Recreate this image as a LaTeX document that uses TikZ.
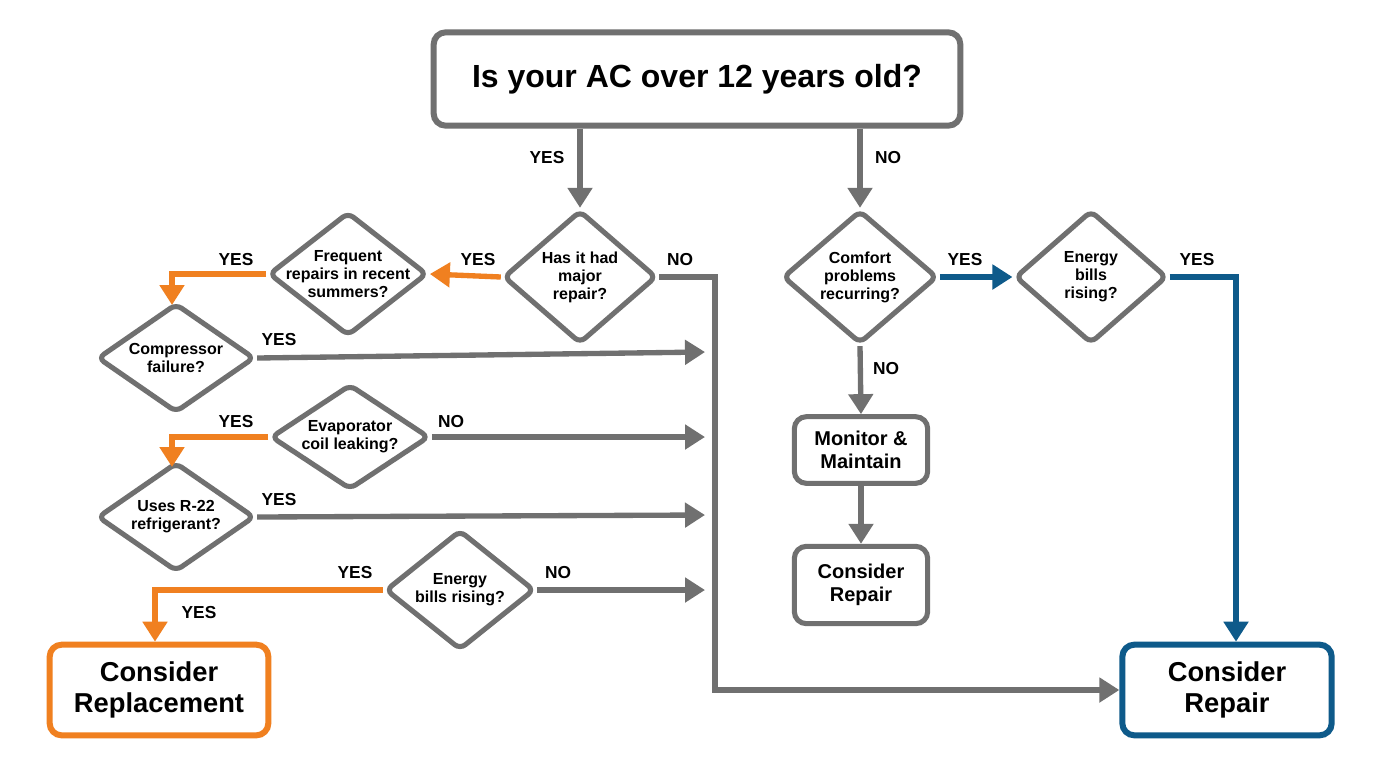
\documentclass[tikz,border=0pt]{standalone}
\usepackage{fontspec}
\setmainfont{Liberation Sans}
\usetikzlibrary{shapes.geometric,arrows.meta}
\definecolor{gr}{HTML}{707070}
\definecolor{orn}{HTML}{F08020}
\definecolor{blu}{HTML}{0E5A8A}
\begin{document}
\begin{tikzpicture}[x=0.75pt,y=-0.75pt,
  box/.style={draw=gr,line width=4.5pt,rounded corners=9pt,fill=white,font=\bfseries,align=center,inner sep=0},
  dia/.style={draw=gr,line width=3.8pt,diamond,rounded corners=5pt,fill=white,inner sep=0},
  dtxt/.style={font=\bfseries\fontsize{12}{13.5}\selectfont,align=center},
  arr/.style={line width=4pt,-{Triangle[length=15pt,width=18pt]}},
  lab/.style={font=\bfseries\fontsize{13}{15}\selectfont}]
\useasboundingbox (0,0) rectangle (1376,768);
\fill[white] (0,0) rectangle (1376,768);
% boxes
\node[box,minimum width=395pt,minimum height=70pt,font=\bfseries\fontsize{24}{27}\selectfont] (top) at (697,79) {Is your AC over 12 years old?};
\node[box,draw=orn,minimum width=164pt,minimum height=68pt,font=\bfseries\fontsize{20.5}{23.5}\selectfont] (repl) at (159,690) {Consider\\Replacement};
\node[box,draw=blu,minimum width=157pt,minimum height=68pt,font=\bfseries\fontsize{20.5}{23.5}\selectfont] (rep2) at (1227,690) {Consider\\Repair};
\node[box,line width=3.8pt,minimum width=100pt,minimum height=50pt,font=\bfseries\fontsize{15}{17.5}\selectfont] (mon) at (861,450) {Monitor \&\\Maintain};
\node[box,line width=3.8pt,minimum width=100pt,minimum height=58pt,font=\bfseries\fontsize{15}{17.5}\selectfont] (rep1) at (861,585) {Consider\\Repair};
% diamonds
\node[dia,minimum width=115pt,minimum height=100pt] (major) at (580,277) {};
\node[dtxt] at (major) {Has it had\\major\\repair?};
\node[dia,minimum width=119pt,minimum height=93pt] (freq) at (348,274) {};
\node[dtxt] at (freq) {Frequent\\repairs in recent\\summers?};
\node[dia,minimum width=118pt,minimum height=82pt] (comp) at (176,358) {};
\node[dtxt] at (comp) {Compressor\\failure?};
\node[dia,minimum width=119pt,minimum height=79pt] (evap) at (350,437) {};
\node[dtxt] at (evap) {Evaporator\\coil leaking?};
\node[dia,minimum width=118pt,minimum height=82pt] (r22) at (176,517) {};
\node[dtxt] at (r22) {Uses R-22\\refrigerant?};
\node[dia,minimum width=112pt,minimum height=90pt] (en1) at (460,590) {};
\node[dtxt] at (en1) {Energy\\bills rising?};
\node[dia,minimum width=116pt,minimum height=100pt] (comf) at (860,277) {};
\node[dtxt] at (comf) {Comfort\\problems\\recurring?};
\node[dia,minimum width=114pt,minimum height=100pt] (en2) at (1091,277) {};
\node[dtxt] at (en2) {Energy\\bills\\rising?};
% coordinates
\coordinate (c1) at (705,352);
\coordinate (c2) at (705,437);
\coordinate (c3) at (705,515);
\coordinate (c4) at (705,590);
% arrows
\draw[arr,gr] (top.south -| major) -- (major.north);
\draw[arr,gr] (top.south -| comf) -- (comf.north);
\draw[arr,gr] (major.east) -- (715,277) -- (715,690) -- (rep2.west);
\draw[arr,orn] (major.west) -- (freq.east);
\draw[arr,orn] (freq.west) -- (172,274) -- (172,305);
\draw[arr,gr] (comp.east) -- (c1);
\draw[arr,gr] (evap.east) -- (c2);
\draw[arr,orn] (evap.west) -- (172,437) -- (172,467);
\draw[arr,gr] (r22.east) -- (c3);
\draw[arr,gr] (en1.east) -- (c4);
\draw[arr,orn] (en1.west) -- (155,590) -- (repl.north -| 155,0);
\draw[arr,blu] (comf.east) -- (en2.west);
\draw[arr,blu] (en2.east) -- (1236,277) -- (rep2.north -| 1236,0);
\draw[arr,gr] (comf.south) -- (mon.north);
\draw[arr,gr] (mon.south) -- (rep1.north);
% labels
\node[lab] at (547,158) {YES};
\node[lab] at (888,158) {NO};
\node[lab] at (680,260) {NO};
\node[lab] at (478,260) {YES};
\node[lab] at (236,260) {YES};
\node[lab] at (279,340) {YES};
\node[lab] at (451,422) {NO};
\node[lab] at (236,422) {YES};
\node[lab] at (279,500) {YES};
\node[lab] at (558,573) {NO};
\node[lab] at (355,573) {YES};
\node[lab] at (199,613) {YES};
\node[lab] at (965,260) {YES};
\node[lab] at (1197,260) {YES};
\node[lab] at (886,369) {NO};
\end{tikzpicture}
\end{document}
